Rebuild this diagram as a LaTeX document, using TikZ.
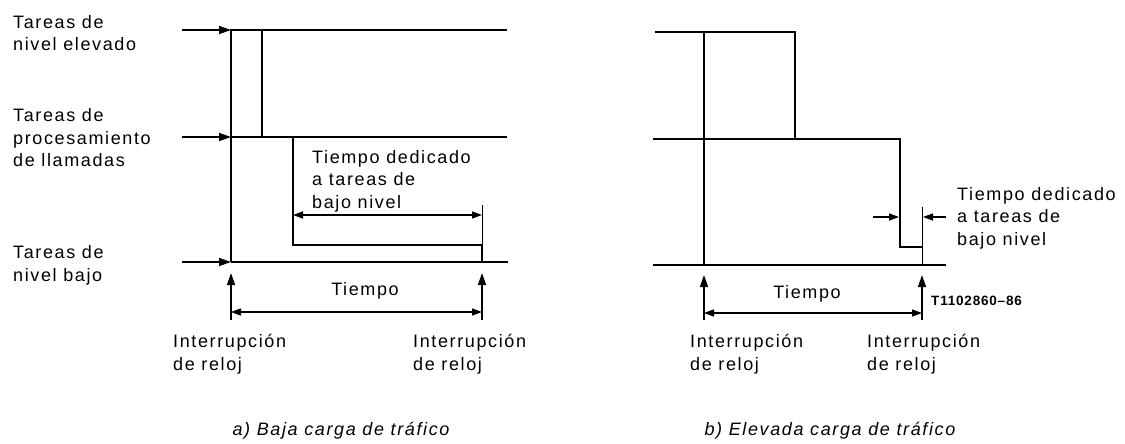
\documentclass[tikz,border=0pt]{standalone}
\usepackage{fontspec}
\setmainfont{Liberation Sans}[LetterSpace=9]
\newfontfamily\smallcode{Liberation Sans}[LetterSpace=6]
\usetikzlibrary{arrows.meta}
\begin{document}
\begin{tikzpicture}[x=1pt,y=-1pt,
  lbl/.style={font=\fontsize{18}{22.5}\selectfont, align=left, anchor=base west, inner sep=0pt},
  ctrtxt/.style={font=\fontsize{18}{22.5}\selectfont, anchor=base, inner sep=0pt},
  captxt/.style={font=\fontsize{18}{22.5}\selectfont\itshape, anchor=base, inner sep=0pt},
  levelline/.style={line width=1.6pt},
  pulseline/.style={line width=2.8pt, line join=miter},
  arrline/.style={-{Triangle[length=12pt,width=8pt]}, line width=1.5pt},
  dimline/.style={{Triangle[length=10pt,width=7pt]}-{Triangle[length=10pt,width=7pt]}, line width=1.3pt},
  dimarr/.style={-{Triangle[length=10pt,width=7pt]}, line width=1.3pt},
  tickline/.style={line width=1pt}]
\useasboundingbox (0,0) rectangle (1125,444);

% ---------- labels on the left (anchor = baseline of last line)
\node[lbl] (l1) at (13,51) {Tareas de\\nivel elevado};
\node[lbl] (l2) at (13,166.5) {Tareas de\\procesamiento\\de llamadas};
\node[lbl] (l3) at (13,281) {Tareas de\\nivel bajo};

% ---------- panel a
\draw[arrline] (182,30) -- (231,30);
\draw[levelline] (231,30) -- (507,30);
\draw[arrline] (182,137) -- (231,137);
\draw[levelline] (231,137) -- (507,137);
\draw[arrline] (182,262) -- (231,262);
\draw[levelline] (231,262) -- (508,262);
\draw[pulseline] (231,262) -- (231,30) -- (262,30) -- (262,137) -- (293,137) -- (293,245) -- (482,245) -- (482,262);

\draw[tickline] (482,205) -- (482,245);
\draw[dimline] (293,215) -- (482,215);
\node[lbl] (ad) at (312,208) {Tiempo dedicado\\a tareas de\\bajo nivel};

\draw[arrline] (231,320) -- (231,273);
\draw[arrline] (482,320) -- (482,273);
\draw[dimline] (231,312) -- (482,312);
\node[ctrtxt] (at) at (365,295) {Tiempo};

\node[lbl] (ai1) at (173,370) {Interrupción\\de reloj};
\node[lbl] (ai2) at (413,370) {Interrupción\\de reloj};
\node[captxt] (acap) at (341,435) {a) Baja carga de tráfico};

% ---------- panel b
\draw[levelline] (655,32) -- (704,32);
\draw[levelline] (653,139) -- (795,139);
\draw[levelline] (653,265) -- (946,265);
\draw[pulseline] (704,265) -- (704,32) -- (795,32) -- (795,139) -- (900,139) -- (900,247) -- (922,247);
\draw[tickline] (922,207) -- (922,265);

\draw[dimarr] (873,217) -- (899,217);
\draw[dimarr] (946,217) -- (923,217);
\node[lbl] (bd) at (957,245) {Tiempo dedicado\\a tareas de\\bajo nivel};

\draw[arrline] (704,320) -- (704,275);
\draw[arrline] (922,320) -- (922,275);
\draw[dimline] (704,313) -- (922,313);
\node[ctrtxt] (bt) at (807,298) {Tiempo};
\node[anchor=base west, inner sep=0pt, font=\smallcode\bfseries\fontsize{13.5}{16}\selectfont] (code) at (931,305) {T1102860–86};

\node[lbl] (bi1) at (690,370) {Interrupción\\de reloj};
\node[lbl] (bi2) at (867,370) {Interrupción\\de reloj};
\node[captxt] (bcap) at (830,435) {b) Elevada carga de tráfico};
\end{tikzpicture}
\end{document}
